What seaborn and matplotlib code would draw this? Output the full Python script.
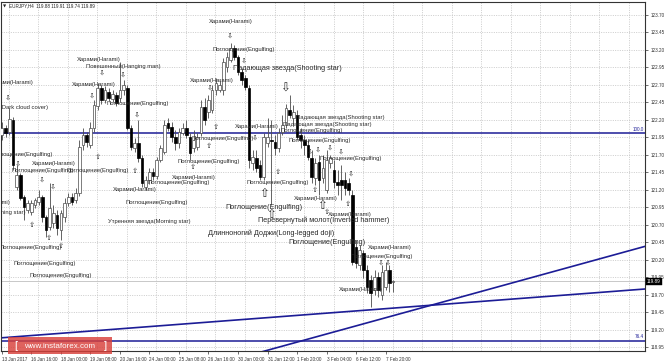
import matplotlib
matplotlib.use("Agg")
import matplotlib.pyplot as plt
import matplotlib.transforms as mtransforms
from matplotlib.patches import Rectangle
import numpy as np
import pandas as pd
import seaborn as sns

# ---------------- data (EURJPY H4) ----------------
opens = [121.98, 122.08, 122.03, 122.20, 121.24, 121.41, 121.10, 120.91, 120.88, 120.98,
         121.02, 121.10, 120.81, 120.67, 120.72, 120.84, 120.62, 120.81, 121.01, 121.10,
         121.05, 121.15, 121.84, 121.98, 121.84, 122.08, 122.40, 122.66, 122.48, 122.60,
         122.50, 122.56, 122.51, 122.63, 122.66, 122.08, 121.80, 121.87, 121.65, 121.24,
         121.34, 121.45, 121.40, 121.63, 121.74, 122.16, 122.10, 121.95, 121.87, 122.01,
         122.08, 121.95, 121.80, 121.81, 122.01, 122.38, 122.31, 122.34, 122.63, 122.63,
         122.63, 122.96, 123.06, 123.23, 123.10, 122.88, 122.80, 122.66, 121.58, 121.65,
         121.55, 121.38, 121.87, 121.91, 121.88, 121.80, 122.03, 122.13, 122.34, 122.23,
         122.27, 121.98, 121.91, 121.84, 121.65, 121.37, 121.60, 121.37, 121.20, 121.58,
         121.48, 121.31, 121.34, 121.34, 121.30, 121.13, 120.38, 120.12, 120.30, 120.05,
         119.91, 119.77, 119.95, 119.69, 119.81, 120.05, 119.88]
highs = [122.17, 122.13, 122.37, 122.24, 121.55, 121.44, 121.13, 121.05, 121.05, 121.08,
         121.20, 121.13, 120.84, 121.30, 120.98, 120.91, 120.91, 121.08, 121.15, 121.15,
         121.23, 121.91, 122.08, 122.03, 122.17, 122.48, 122.73, 122.70, 122.69, 122.66,
         122.63, 122.60, 123.03, 122.77, 122.70, 122.13, 121.94, 122.20, 121.70, 121.40,
         121.51, 121.51, 121.67, 121.84, 122.20, 122.23, 122.17, 122.06, 122.08, 122.16,
         122.20, 122.01, 122.06, 122.01, 122.48, 122.51, 122.56, 122.70, 122.80, 122.77,
         123.09, 123.17, 123.30, 123.27, 123.13, 122.94, 122.84, 122.70, 121.77, 121.77,
         121.63, 122.01, 122.23, 122.20, 121.98, 122.08, 122.27, 122.43, 122.56, 122.41,
         122.34, 122.08, 121.98, 121.91, 121.77, 121.65, 121.70, 121.70, 121.77, 121.70,
         121.63, 121.48, 121.55, 121.45, 121.37, 121.20, 120.48, 120.41, 120.34, 120.12,
         119.98, 120.05, 120.02, 120.12, 120.17, 120.12, 119.91]
lows = [121.91, 121.95, 121.98, 121.48, 121.20, 121.05, 120.77, 120.87, 120.84, 120.94,
        120.98, 120.74, 120.52, 120.62, 120.65, 120.55, 120.48, 120.74, 120.97, 120.98,
        121.01, 121.11, 121.77, 121.81, 121.80, 122.03, 122.34, 122.43, 122.44, 122.47,
        122.46, 122.40, 122.46, 122.56, 122.06, 121.77, 121.74, 121.60, 121.24, 121.20,
        121.28, 121.34, 121.35, 121.60, 121.71, 122.04, 121.88, 121.77, 121.80, 121.98,
        121.94, 121.63, 121.74, 121.77, 121.97, 122.13, 122.23, 122.30, 122.56, 122.60,
        122.56, 122.88, 123.03, 123.06, 122.84, 122.70, 122.63, 121.51, 121.48, 121.45,
        121.34, 121.34, 121.81, 120.98, 121.70, 121.74, 121.98, 122.08, 122.23, 122.13,
        121.91, 121.80, 121.70, 121.63, 121.30, 121.27, 121.13, 121.30, 121.15, 121.51,
        121.23, 121.13, 121.05, 121.13, 121.13, 120.12, 120.08, 120.05, 119.94, 119.72,
        119.52, 119.69, 119.67, 119.62, 119.77, 119.74, 119.74]
closes = [122.08, 122.01, 122.21, 121.55, 121.41, 121.08, 120.95, 121.01, 121.01, 121.05,
          121.10, 120.81, 120.62, 120.94, 120.87, 120.65, 120.87, 121.01, 121.10, 121.02,
          121.15, 121.81, 121.98, 121.88, 122.08, 122.41, 122.66, 122.48, 122.63, 122.51,
          122.57, 122.44, 122.63, 122.70, 122.08, 121.81, 121.87, 121.65, 121.30, 121.34,
          121.45, 121.40, 121.63, 121.80, 122.13, 122.08, 121.95, 121.87, 122.03, 122.08,
          121.98, 121.73, 121.91, 121.95, 122.38, 122.20, 122.48, 122.63, 122.73, 122.70,
          123.03, 123.10, 123.23, 123.10, 122.88, 122.77, 122.67, 121.63, 121.67, 121.51,
          121.38, 121.95, 121.95, 121.90, 121.80, 122.01, 122.13, 122.37, 122.27, 122.31,
          121.95, 121.91, 121.84, 121.67, 121.38, 121.58, 121.34, 121.51, 121.63, 121.65,
          121.31, 121.27, 121.27, 121.23, 121.20, 120.17, 120.15, 120.34, 120.05, 119.81,
          119.72, 119.95, 119.77, 120.02, 120.05, 119.87, 119.89]

time_labels = ["13 Jan 2017", "16 Jan 16:00", "18 Jan 00:00", "19 Jan 08:00", "20 Jan 16:00",
               "24 Jan 00:00", "25 Jan 08:00", "26 Jan 16:00", "30 Jan 00:00", "31 Jan 12:00",
               "1 Feb 20:00", "3 Feb 04:00", "6 Feb 12:00", "7 Feb 20:00"]
label_bars = [0, 8, 16, 24, 32, 40, 48, 56, 64, 72, 80, 88, 96, 104]

price_ticks = [118.95, 119.20, 119.45, 119.70, 119.95, 120.20, 120.45, 120.70, 120.95, 121.20,
               121.45, 121.70, 121.95, 122.20, 122.45, 122.70, 122.95, 123.20, 123.45, 123.70]

fib_levels = [122.01, 119.04]
fib_names = ["100.0", "76.4"]

trend_shallow = [(-0.5, 119.08), (174.3, 119.78)]
trend_steep = [(80.0, 119.02), (174.3, 120.39)]

last_price = 119.89
title_text = "EURJPY,H4  119.88 119.91 119.74 119.89"

# pattern labels: (text, bar, price, align)
small_labels = [
    ("Харами(Harami)", 56.1, 123.60, "left"),
    ("Поглощение(Engulfing)", 57.2, 123.20, "left"),
    ("Харами(Harami)", 20.4, 123.07, "left"),
    ("Повешенный(Hanging man)", 22.8, 122.96, "left"),
    ("Харами(Harami)", -3.2, 122.73, "left"),
    ("Харами(Harami)", 19.0, 122.70, "left"),
    ("Завеса из темных облаков(Dark cloud cover)", 12.5, 122.37, "right"),
    ("Поглощение(Engulfing)", 28.5, 122.44, "left"),
    ("Харами(Harami)", 51.0, 122.77, "left"),
    ("Падающая звезда(Shooting star)", 79.7, 122.24, "left"),
    ("Падающая звезда(Shooting star)", 76.2, 122.14, "left"),
    ("Харами(Harami)", 63.2, 122.10, "left"),
    ("Поглощение(Engulfing)", 75.4, 122.05, "left"),
    ("Поглощение(Engulfing)", 51.5, 121.94, "left"),
    ("Поглощение(Engulfing)", 77.6, 121.90, "left"),
    ("Поглощение(Engulfing)", -3.2, 121.71, "left"),
    ("Поглощение(Engulfing)", 86.2, 121.65, "left"),
    ("Поглощение(Engulfing)", 47.5, 121.60, "left"),
    ("Харами(Harami)", 8.2, 121.57, "left"),
    ("Поглощение(Engulfing)", 2.5, 121.47, "left"),
    ("Поглощение(Engulfing)", 17.4, 121.47, "left"),
    ("Поглощение(Engulfing)", 66.4, 121.31, "left"),
    ("Поглощение(Engulfing)", 39.6, 121.30, "left"),
    ("Харами(Harami)", 46.1, 121.37, "left"),
    ("Харами(Harami)", 30.1, 121.21, "left"),
    ("Харами(Harami)", 79.2, 121.07, "left"),
    ("Поглощение(Engulfing)", 33.4, 121.02, "left"),
    ("Харами(Harami)", -9.4, 121.02, "left"),
    ("Харами(Harami)", 88.4, 120.85, "left"),
    ("Утренняя звезда(Morning star)", 28.8, 120.74, "left"),
    ("Утренняя звезда(Morning star)", 6.5, 120.87, "right"),
    ("Харами(Harami)", 99.2, 120.38, "left"),
    ("Поглощение(Engulfing)", -0.5, 120.37, "left"),
    ("Поглощение(Engulfing)", 94.4, 120.25, "left"),
    ("Поглощение(Engulfing)", 3.3, 120.15, "left"),
    ("Поглощение(Engulfing)", 7.4, 119.98, "left"),
    ("Харами(Harami)", 91.4, 119.77, "left"),
]
big_labels = [
    ("Падающая звезда(Shooting star)", 62.7, 122.93),
    ("Поглощение(Engulfing)", 60.7, 120.95),
    ("Перевернутый молот(Inverted hammer)", 69.4, 120.77),
    ("Длинноногий Доджи(Long-legged doji)", 55.9, 120.58),
    ("Поглощение(Engulfing)", 77.6, 120.44),
]
arrows_down = [(61.9, 123.40), (65.6, 123.04), (27.2, 122.88), (32.8, 122.84), (24.4, 122.54),
               (1.7, 122.51), (36.6, 122.27), (56.4, 122.66), (4.4, 121.57), (10.9, 121.34),
               (13.9, 121.24), (68.6, 121.94), (83.5, 121.74), (85.7, 121.77), (88.9, 121.80),
               (91.9, 121.75), (94.6, 121.43), (102.8, 120.15), (104.7, 120.15)]
arrows_up = [(26.1, 121.67), (36.1, 121.47), (51.8, 121.53), (58.0, 122.10), (56.2, 121.83),
             (8.2, 120.70), (12.8, 120.51), (16.0, 120.40), (74.9, 121.45), (84.9, 121.20),
             (93.8, 121.00), (88.1, 120.88)]
big_arrows_down = [(76.7, 122.66)]
big_arrows_up = [(71.1, 121.14), (73.0, 120.85), (86.8, 120.98)]

# ---------------- styling ----------------
sns.set_theme(style="white")
plt.rcParams["font.family"] = ["Liberation Sans", "DejaVu Sans"]
plt.rcParams["axes.linewidth"] = 0.8

W, H = 664, 361
fig = plt.figure(figsize=(W / 100, H / 100), dpi=100)
fig.patch.set_facecolor("white")
ax = fig.add_axes([1 / W, (H - 351) / H, 644 / W, 349 / H])
ax.set_facecolor("white")

x_left, x_right = -0.22, 174.3
y_bot, y_top = 118.893, 123.886
ax.set_xlim(x_left, x_right)
ax.set_ylim(y_bot, y_top)

grid_kw = dict(color="#c4c4c4", lw=0.6, linestyle=(0, (1.2, 1.6)), zorder=0)
for k in range(23):
    ax.axvline(8 * k + 1.9, **grid_kw)
for p in price_ticks:
    ax.axhline(p, **grid_kw)

# current price line
ax.axhline(last_price, color="#c8c8c8", lw=0.7, zorder=1)

# fib levels
navy = "#1c1c96"
for lvl, name in zip(fib_levels, fib_names):
    ax.axhline(lvl, color=navy, lw=1.1, zorder=2)
    ax.text(x_right - 0.3, lvl + 0.02, name, fontsize=3.3, color=navy, ha="right", va="bottom", zorder=6)

# trend lines (rays extended to chart edges)
for (x1, y1), (x2, y2) in [trend_shallow, trend_steep]:
    slope = (y2 - y1) / (x2 - x1)
    xs = np.array([x_left - 5, x_right + 5])
    df = pd.DataFrame({"bar": xs, "price": y1 + slope * (xs - x1)})
    sns.lineplot(data=df, x="bar", y="price", ax=ax, color=navy, lw=1.2,
                 estimator=None, sort=False, zorder=2)

# candles
n = len(closes)
idx = np.arange(n)
o = np.array(opens); c = np.array(closes); h = np.array(highs); l = np.array(lows)
ax.vlines(idx, l, h, color="#4a4a4a", lw=0.6, zorder=3)
bull = c >= o
body_lo = np.minimum(o, c)
body_h = np.maximum(np.abs(c - o), 0.012)
ax.bar(idx[bull], body_h[bull], bottom=body_lo[bull], width=0.72, color="white",
       edgecolor="#4a4a4a", linewidth=0.5, zorder=4)
ax.bar(idx[~bull], body_h[~bull], bottom=body_lo[~bull], width=0.72, color="black",
       edgecolor="black", linewidth=0.5, zorder=4)

# pattern annotations
txt_color = "#2a2a2a"
for s, bx, py, al in small_labels:
    ax.text(bx, py, s, fontsize=4.2, color=txt_color, ha=al, va="center", zorder=5, clip_on=True)
for s, bx, py in big_labels:
    ax.text(bx, py, s, fontsize=5.2, color=txt_color, ha="left", va="center", zorder=5, clip_on=True)
arrow_font = ["DejaVu Sans"]
for bx, py in arrows_down:
    ax.text(bx, py, "⇩", fontsize=5.4, family=arrow_font, color=txt_color, ha="center", va="center", zorder=5)
for bx, py in arrows_up:
    ax.text(bx, py, "⇧", fontsize=5.4, family=arrow_font, color=txt_color, ha="center", va="center", zorder=5)
for bx, py in big_arrows_down:
    ax.text(bx, py, "⇩", fontsize=8.5, family=arrow_font, color=txt_color, ha="center", va="center", zorder=5)
for bx, py in big_arrows_up:
    ax.text(bx, py, "⇧", fontsize=8.5, family=arrow_font, color=txt_color, ha="center", va="center", zorder=5)

# axes / ticks
for sp in ax.spines.values():
    sp.set_visible(True)
    sp.set_color("#333333")
    sp.set_linewidth(0.8)
ax.yaxis.tick_right()
ax.set_yticks(price_ticks)
ax.set_yticklabels([f"{p:.2f}" for p in price_ticks])
ax.set_xticks(label_bars)
ax.set_xticklabels(time_labels, ha="left")
ax.tick_params(axis="both", which="both", direction="out", length=2.5, width=0.5,
               labelsize=3.3, pad=1.5, colors="#333333")
ax.tick_params(axis="y", left=False, right=True)
ax.tick_params(axis="x", bottom=True, top=False)
ax.set_xlabel("")
ax.set_ylabel("")

# current price box
tr = mtransforms.blended_transform_factory(ax.transAxes, ax.transData)
ax.text(1.003, last_price, f"{last_price:.2f}", transform=tr, fontsize=3.3, color="white",
        ha="left", va="center", zorder=7, clip_on=False,
        bbox=dict(boxstyle="square,pad=0.25", fc="black", ec="black", lw=0.3))

# title
fig.text(3 / W, 1 - 6 / H, "▼", fontsize=3.0, family=["DejaVu Sans"], color="#222222", va="center")
fig.text(9 / W, 1 - 6 / H, title_text, fontsize=3.3, color="#222222", va="center")

# watermark
fig.patches.append(Rectangle((8 / W, 1 - 354 / H), 104 / W, 17 / H, transform=fig.transFigure,
                             facecolor="#d8403a", edgecolor="none", alpha=0.82, zorder=10))
fig.text(14 / W, 1 - 346 / H, "[", fontsize=8, color="white", va="center", zorder=11)
fig.text(60 / W, 1 - 346 / H, "www.instaforex.com", fontsize=5.8, color="white",
         ha="center", va="center", zorder=11)
fig.text(104 / W, 1 - 346 / H, "]", fontsize=8, color="white", va="center", zorder=11)

fig.savefig("out.png", dpi=100, facecolor="white")
